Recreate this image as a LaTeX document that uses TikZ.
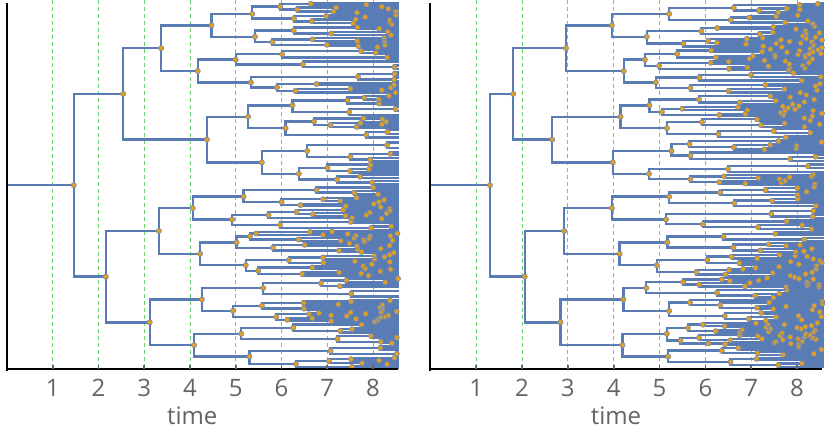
\documentclass[tikz,border=0pt]{standalone}
\usepackage{fontspec}
\setmainfont{Open Sans}
\definecolor{brc}{RGB}{90,124,180}
\definecolor{dotc}{RGB}{226,160,32}
\definecolor{dotl}{RGB}{120,138,170}
\definecolor{gridc}{RGB}{105,210,105}
\definecolor{labc}{RGB}{100,100,100}
\tikzset{
  br/.style={draw=brc,line width=2.4pt,line cap=rect},
  dotmark/.style={fill=dotc,draw=dotl,line width=0.6pt},
  gridl/.style={draw=gridc,line width=0.9pt,dash pattern=on 4pt off 3pt},
  axisl/.style={draw=black,line width=2.2pt},
  tickl/.style={draw=black!60,line width=1.6pt},
  ticklab/.style={text=labc,font=\fontsize{24}{28}\selectfont,anchor=base,inner sep=0pt}
}
\def\Ylo{2.5}\def\Yhi{368}\def\Tmax{8.55}\def\Wm{0.26}
\newcount\leafN \newcount\leafK
\gdef\dotsL{}
\newcommand\adddot[2]{\xdef\dotsL{\dotsL (#1,#2) circle[radius=2.6]}}
\newcommand\waitexpr{\Wm*(ln(rnd*0.999+0.001)+ln(rnd*0.999+0.001)+ln(rnd*0.999+0.001)+ln(rnd*0.999+0.001))}
% fixed internal node with halving layout: t0 ts lo hi
\newcommand\drawnode[4]{%
  \pgfmathsetmacro\dym{(#3+#4)/2}%
  \pgfmathsetmacro\dyu{(#3*3+#4)/4}%
  \pgfmathsetmacro\dyd{(#3+#4*3)/4}%
  \pgfmathsetmacro\dxa{\Xo+\Ux*#1}%
  \pgfmathsetmacro\dxb{\Xo+\Ux*#2}%
  \draw[br] (\dxa,\dym) -- (\dxb,\dym) (\dxb,\dyu) -- (\dxb,\dyd);
  \adddot{\dxb}{\dym}}
\newcommand\fnode[4]{%
  \pgfmathsetmacro\fH{(\Yhi-\Ylo)/2^#1}%
  \pgfmathsetmacro\flo{\Ylo+#2*\fH}%
  \pgfmathsetmacro\fhi{\flo+\fH}%
  \drawnode{#3}{#4}{\flo}{\fhi}}
% ---- random subtrees, leaf-proportional layout inside a band ----
\newcommand\rcount[1]{%
  \begingroup
  \pgfmathsetmacro\rts{#1-\waitexpr}%
  \ifdim\rts pt<\Tmax pt
    \edef\rnext{\noexpand\rcount{\rts}\noexpand\rcount{\rts}}%
  \else
    \global\advance\leafN by 1
    \def\rnext{}%
  \fi
  \rnext
  \endgroup}
\newcommand\rdraw[1]{%
  \begingroup
  \pgfmathsetmacro\rts{#1-\waitexpr}%
  \pgfmathsetmacro\dxa{\Xo+\Ux*#1}%
  \ifdim\rts pt<\Tmax pt
    \def\rnext{\rdrawsplit}%
  \else
    \def\rnext{\rdrawleaf}%
  \fi
  \rnext
  \endgroup}
\newcommand\rdrawsplit{%
  \expandafter\rdraw\expandafter{\rts}\let\yA\gy
  \expandafter\rdraw\expandafter{\rts}\let\yB\gy
  \pgfmathsetmacro\dxb{\Xo+\Ux*\rts}%
  \pgfmathsetmacro\dym{(\yA+\yB)/2}%
  \draw[br] (\dxa,\dym) -- (\dxb,\dym) (\dxb,\yA) -- (\dxb,\yB);
  \adddot{\dxb}{\dym}%
  \global\let\gy\dym}
\newcommand\rdrawleaf{%
  \pgfmathsetmacro\dym{\Blo+(\the\leafK+0.5)*\Bsp}%
  \global\advance\leafK by 1
  \pgfmathsetmacro\dxb{\Xo+\Ux*\Tmax}%
  \draw[br] (\dxa,\dym) -- (\dxb,\dym);
  \global\let\gy\dym}
% band: seed t0 lo hi  (result y in \gy)
\newcommand\band[4]{%
  \begingroup
  \pgfmathsetseed{#1}\global\leafN=0 \rcount{#2}%
  \pgfmathsetmacro\Bsp{(#4-#3)/\the\leafN}\edef\Blo{#3}%
  \pgfmathsetseed{#1}\global\leafK=0 \rdraw{#2}%
  \endgroup}
% level-k fixed node whose two children are random subtrees: k i t0 ts
\newcommand\fnodeR[4]{%
  \begingroup
  \pgfmathsetmacro\fH{(\Yhi-\Ylo)/2^#1}%
  \pgfmathsetmacro\flo{\Ylo+#2*\fH}%
  \pgfmathsetmacro\fhi{\flo+\fH}%
  \pgfmathsetmacro\fmid{\flo+\fH/2}%
  \pgfmathtruncatemacro\sA{\Sbase+2*#2}%
  \pgfmathtruncatemacro\sB{\Sbase+2*#2+1}%
  \band{\sA}{#4}{\flo}{\fmid}\let\yA\gy
  \band{\sB}{#4}{\fmid}{\fhi}\let\yB\gy
  \pgfmathsetmacro\dxa{\Xo+\Ux*#3}%
  \pgfmathsetmacro\dxb{\Xo+\Ux*#4}%
  \draw[br] (\dxa,\fmid) -- (\dxb,\fmid) (\dxb,\yA) -- (\dxb,\yB);
  \adddot{\dxb}{\fmid}%
  \endgroup}
\newcommand\drawdots{%
  \edef\dotcmd{\noexpand\path[dotmark] \dotsL;}\dotcmd
  \gdef\dotsL{}}
% frame of a panel
\newcommand\panelgrid{%
  \foreach \k in {1,...,8}{\draw[gridl] ({\Xo+\Ux*\k},0) -- ({\Xo+\Ux*\k},368);}}
\newcommand\panelaxes[1]{%
  \draw[axisl] (\Xo,3) -- (\Xo,370.5);
  \draw[axisl] (\Xo,369.3) -- ({\Xo+\Ux*\Tmax},369.3);
  \foreach \k in {1,...,8}{%
    \draw[tickl] ({\Xo+\Ux*\k},364.5) -- ({\Xo+\Ux*\k},368.5);
    \node[ticklab] (#1tick\k) at ({\Xo+\Ux*\k},396.7) {\k};}
  \node[ticklab] (#1time) at ({\Xo+\Ux*4.05},424) {time};}
\begin{document}
\begin{tikzpicture}[x=1pt,y=-1pt]
\useasboundingbox (0,0) rectangle (830,429);
% ---------------- left panel ----------------
\def\Xo{7}\def\Ux{45.75}\def\Sbase{1100}
\panelgrid
\fnode{0}{0}{0}{1.46}
\fnode{1}{0}{1.46}{2.54}\fnode{1}{1}{1.46}{2.16}
\fnode{2}{0}{2.54}{3.37}\fnode{2}{1}{2.54}{4.37}\fnode{2}{2}{2.16}{3.32}\fnode{2}{3}{2.16}{3.12}
\fnode{3}{0}{3.37}{4.47}\fnode{3}{1}{3.37}{4.17}\fnode{3}{2}{4.37}{5.27}\fnode{3}{3}{4.37}{5.57}
\fnode{3}{4}{3.32}{4.06}\fnode{3}{5}{3.32}{4.22}\fnode{3}{6}{3.12}{4.26}\fnode{3}{7}{3.12}{4.09}
\fnodeR{4}{0}{4.47}{5.36}\fnodeR{4}{1}{4.47}{5.42}
\fnodeR{4}{2}{4.17}{5.00}\fnodeR{4}{3}{4.17}{5.33}
\fnodeR{4}{4}{5.27}{6.24}\fnodeR{4}{5}{5.27}{6.09}
\fnodeR{4}{6}{5.57}{6.56}\fnodeR{4}{7}{5.57}{6.38}
\fnodeR{4}{8}{4.06}{5.17}\fnodeR{4}{9}{4.06}{4.92}
\fnodeR{4}{10}{4.22}{5.02}\fnodeR{4}{11}{4.22}{5.22}
\fnodeR{4}{12}{4.26}{5.60}\fnodeR{4}{13}{4.26}{4.94}
\fnodeR{4}{14}{4.09}{5.12}\fnodeR{4}{15}{4.09}{5.30}
\drawdots
\panelaxes{L}
% ---------------- right panel ----------------
\def\Xo{430.3}\def\Ux{45.85}\def\Sbase{3300}
\panelgrid
\fnode{0}{0}{0}{1.30}
\fnode{1}{0}{1.30}{1.81}\fnode{1}{1}{1.30}{2.06}
\fnode{2}{0}{1.81}{2.96}\fnode{2}{1}{1.81}{2.66}\fnode{2}{2}{2.06}{2.92}\fnode{2}{3}{2.06}{2.84}
\fnode{3}{0}{2.96}{3.96}\fnode{3}{1}{2.96}{4.22}\fnode{3}{2}{2.66}{4.15}\fnode{3}{3}{2.66}{3.98}
\fnode{3}{4}{2.92}{3.96}\fnode{3}{5}{2.92}{4.13}\fnode{3}{6}{2.84}{4.21}\fnode{3}{7}{2.84}{4.19}
\fnodeR{4}{0}{3.96}{5.21}\fnodeR{4}{1}{3.96}{4.72}
\fnodeR{4}{2}{4.22}{4.68}\fnodeR{4}{3}{4.22}{4.92}
\fnodeR{4}{4}{4.15}{4.78}\fnodeR{4}{5}{4.15}{5.16}
\fnodeR{4}{6}{3.98}{5.26}\fnodeR{4}{7}{3.98}{4.77}
\fnodeR{4}{8}{3.96}{5.21}\fnodeR{4}{9}{3.96}{5.14}
\fnodeR{4}{10}{4.13}{5.17}\fnodeR{4}{11}{4.13}{4.94}
\fnodeR{4}{12}{4.21}{4.71}\fnodeR{4}{13}{4.21}{5.21}
\fnodeR{4}{14}{4.19}{5.16}\fnodeR{4}{15}{4.19}{5.19}
\drawdots
\panelaxes{R}
\end{tikzpicture}
\end{document}
